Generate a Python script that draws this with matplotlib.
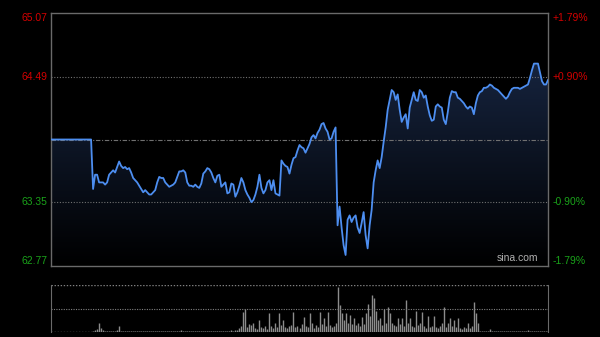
import numpy as np
import matplotlib
matplotlib.use("Agg")
import matplotlib.pyplot as plt
from matplotlib.colors import LinearSegmentedColormap
from matplotlib.transforms import blended_transform_factory

plt.rcParams['font.family'] = ['Liberation Sans', 'DejaVu Sans']

# ---------------- data ----------------
prev_close = 63.92
price_ticks = [65.07, 64.49, 63.35, 62.77]
pct_labels = ["+1.79%", "+0.90%", "-0.90%", "-1.79%"]
tick_colors = ["#d40000", "#d40000", "#1aa31a", "#1aa31a"]

prices = [63.92] * 21 + [
    63.47, 63.60, 63.60, 63.53, 63.53, 63.53, 63.51, 63.53, 63.60, 63.62,
    63.64, 63.62, 63.67, 63.72, 63.68, 63.66, 63.67, 63.65, 63.66, 63.62,
    63.57, 63.55, 63.53, 63.50, 63.47, 63.44, 63.46, 63.44, 63.42, 63.42,
    63.44, 63.46, 63.53, 63.58, 63.57, 63.57, 63.53, 63.51, 63.49, 63.50,
    63.51, 63.53, 63.58, 63.63, 63.63, 63.64, 63.62, 63.53, 63.50, 63.50,
    63.49, 63.51, 63.49, 63.48, 63.52, 63.61, 63.63, 63.66, 63.65, 63.62,
    63.57, 63.53, 63.59, 63.60, 63.49, 63.51, 63.53, 63.43, 63.44, 63.52,
    63.51, 63.40, 63.44, 63.50, 63.57, 63.53, 63.46, 63.42, 63.39, 63.35,
    63.37, 63.42, 63.49, 63.60, 63.48, 63.43, 63.46, 63.53, 63.55, 63.46,
    63.55, 63.43, 63.42, 63.41, 63.73, 63.70, 63.68, 63.67, 63.61, 63.69,
    63.75, 63.76, 63.82, 63.87, 63.85, 63.84, 63.80, 63.84, 63.88, 63.94,
    63.96, 63.93, 63.98, 64.01, 64.06, 64.07, 64.02, 63.99, 63.92, 63.93,
    63.99, 64.03, 63.14, 63.31, 63.12, 62.96, 62.87, 63.19, 63.23, 63.17,
    63.21, 63.23, 63.12, 63.07, 63.16, 63.26, 63.05, 62.93, 63.14, 63.28,
    63.53, 63.64, 63.73, 63.66, 63.76, 63.90, 64.03, 64.19, 64.28, 64.37,
    64.35, 64.28, 64.33, 64.19, 64.08, 64.12, 64.15, 64.02, 64.21, 64.28,
    64.35, 64.28, 64.27, 64.37, 64.35, 64.30, 64.32, 64.22, 64.14, 64.09,
    64.10, 64.22, 64.24, 64.22, 64.21, 64.10, 64.06, 64.17, 64.30, 64.36,
    64.35, 64.35, 64.30, 64.29, 64.27, 64.25, 64.22, 64.20, 64.22, 64.21,
    64.15, 64.25, 64.32, 64.35, 64.36, 64.39, 64.39, 64.40, 64.42, 64.41,
    64.39, 64.38, 64.37, 64.35, 64.33, 64.31, 64.29, 64.31, 64.35, 64.38,
    64.39, 64.39, 64.39, 64.38, 64.39, 64.40, 64.41, 64.42, 64.48, 64.55,
    64.61, 64.61, 64.61, 64.53, 64.45, 64.42, 64.42, 64.46,
]

volumes = [0] * 21 + [
    3, 4, 6, 20, 8, 4, 3, 3, 2, 3,
    2, 3, 4, 13, 3, 2, 2, 2, 3, 2,
    2, 2, 3, 2, 2, 3, 2, 2, 2, 3,
    2, 2, 2, 3, 2, 2, 2, 2, 3, 2,
    2, 2, 2, 2, 5, 3, 2, 2, 2, 2,
    3, 2, 2, 2, 2, 3, 2, 2, 3, 2,
    2, 2, 3, 2, 2, 2, 2, 3, 2, 4,
    3, 5, 4, 8, 12, 42, 50, 10, 18, 14,
    20, 8, 6, 25, 10, 8, 12, 6, 40, 12,
    8, 20, 10, 40, 14, 25, 10, 8, 12, 15,
    42, 10, 12, 8, 18, 32, 12, 10, 40, 20,
    8, 14, 10, 42, 18, 30, 12, 42, 15, 10,
    12, 20, 95, 57, 40, 25, 40, 20, 36, 18,
    30, 15, 20, 12, 32, 18, 40, 60, 35, 78,
    72, 45, 25, 30, 15, 50, 20, 53, 40, 20,
    15, 12, 30, 18, 30, 12, 68, 20, 30, 12,
    10, 45, 15, 20, 42, 12, 8, 35, 10, 12,
    35, 10, 8, 12, 20, 53, 10, 20, 30, 12,
    25, 10, 30, 8, 6, 10, 8, 20, 8, 12,
    64, 40, 20, 3, 2, 2, 2, 3, 7, 2,
    2, 2, 2, 2, 2, 2, 2, 2, 3, 2,
    2, 2, 2, 2, 2, 2, 2, 4, 2, 2,
    2, 2, 2, 2, 2, 2, 2, 2,
]

# ---------------- figure ----------------
W, H = 600, 337
fig = plt.figure(figsize=(W / 100, H / 100), dpi=100, facecolor="black")

ax = fig.add_axes([51 / W, 1 - 266 / H, 497 / W, 253 / H])
ax.set_facecolor("black")
n = len(prices)
x = np.arange(n)
ymin, ymax = price_ticks[-1], price_ticks[0]
ax.set_xlim(0, n - 1)
ax.set_ylim(ymin, ymax)

# gradient fill under line
cmap = LinearSegmentedColormap.from_list("g", ["#000000", "#1b2c4d"])
grad = np.linspace(1, 0, 256).reshape(-1, 1)
im = ax.imshow(grad, cmap=cmap, aspect="auto",
               extent=[0, n - 1, ymin, ymax], origin="upper", zorder=1)
poly = ax.fill_between(x, prices, ymin, facecolor="none", edgecolor="none")
im.set_clip_path(poly.get_paths()[0], transform=ax.transData)

ax.plot(x, prices, color="#4d8ef0", lw=1.3, zorder=3)

# grid lines
for v in (price_ticks[1], price_ticks[2]):
    ax.axhline(v, color="#707070", lw=0.8, ls=(0, (1, 1.5)), zorder=2)
ax.axhline(prev_close, color="#707070", lw=0.8, ls=(0, (4, 1.5, 1, 1.5)), zorder=2)

for s in ax.spines.values():
    s.set_color("#6a6a6a")
    s.set_linewidth(1.0)
ax.set_xticks([])
ax.set_yticks([])

tr = blended_transform_factory(ax.transAxes, ax.transData)
vas = ["top", "center", "center", "bottom"]
for v, pl, c, va in zip(price_ticks, pct_labels, tick_colors, vas):
    yv = v
    ax.text(-0.007, yv, f"{v:.2f}", color=c, fontsize=7.5, ha="right",
            va=va, transform=tr)
    ax.text(1.010, yv, pl, color=c, fontsize=7.5, ha="left",
            va=va, transform=tr)

ax.text(0.98, 0.01, "sina.com", color="#b0b0b0", fontsize=7.5,
        ha="right", va="bottom", transform=ax.transAxes, zorder=4)

# volume panel
vax = fig.add_axes([51 / W, 1 - 332 / H, 497 / W, 47 / H])
vax.set_facecolor("black")
vx = np.arange(len(volumes))
vax.set_xlim(0, n - 1)
vax.set_ylim(0, 100)
vax.vlines(vx, 0, volumes, color="#8c8c8c", lw=1.0)
vax.axhline(50, color="#808080", lw=0.8, ls=(0, (1, 1.2)))
vax.axhline(100, color="#808080", lw=1.0, ls=(0, (1, 1.2)))
vax.axhline(0, color="#808080", lw=1.0, ls=(0, (1, 1.2)))
vax.spines["top"].set_visible(False)
vax.spines["bottom"].set_visible(False)
for k in ("left", "right"):
    vax.spines[k].set_color("#6a6a6a")
vax.set_xticks([])
vax.set_yticks([])

fig.savefig("out.png", dpi=100, facecolor="black")
